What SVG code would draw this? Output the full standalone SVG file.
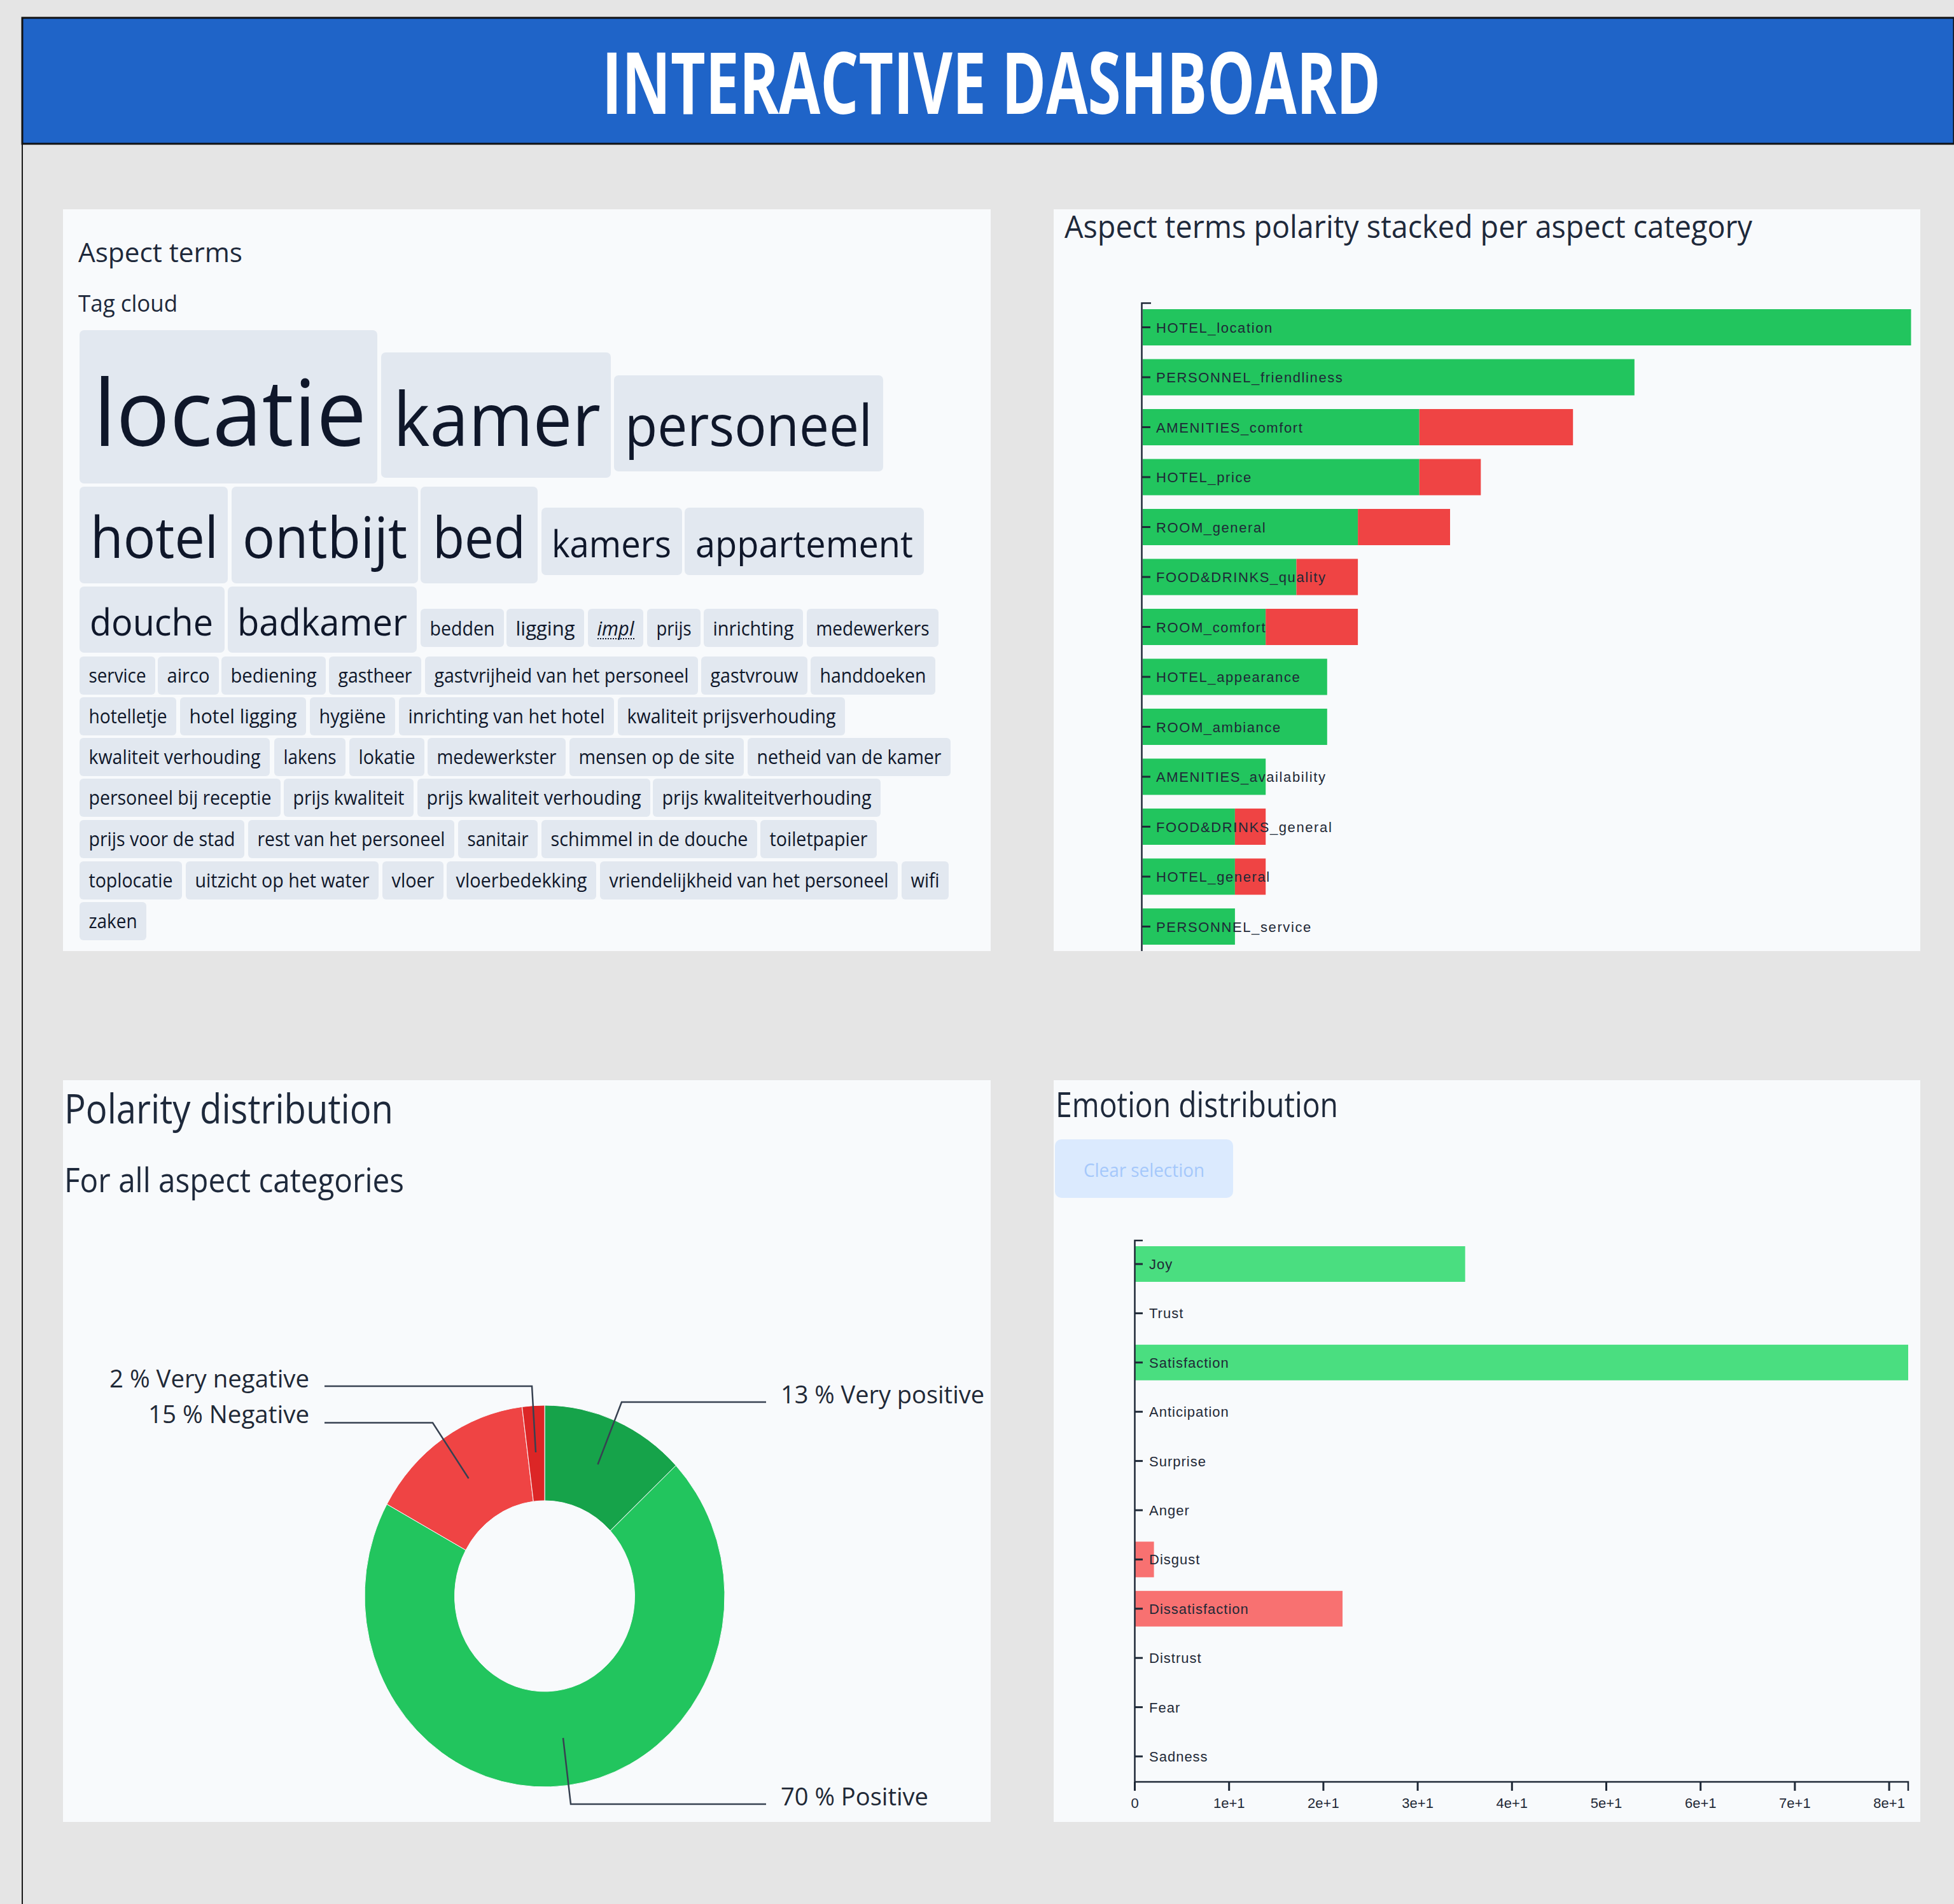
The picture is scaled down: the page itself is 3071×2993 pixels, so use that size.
<svg xmlns="http://www.w3.org/2000/svg" width="3071" height="2993" viewBox="0 0 3071 2993">
<style>
.ui{font-family:"Open Sans","Noto Sans",sans-serif;fill:#0f172a}
.hd{font-family:"Open Sans","Noto Sans",sans-serif;fill:#1e293b}
.chip{fill:#e2e8f0}
.sm{font-size:31px}
.panel{fill:#f8fafc}
.ax{font-family:"Liberation Sans",Arial,sans-serif;font-size:22px;fill:#1f2937}
.axl{stroke:#1f2937;stroke-width:2.5;fill:none}
.tick{stroke:#1f2937;stroke-width:3}
.g1{fill:#22c55e}.r1{fill:#ef4444}
.g2{fill:#4ade80}.r2{fill:#f87171}
.lead{stroke:#374151;stroke-width:2.5;fill:none}
.lbl{font-family:"Open Sans","Noto Sans",sans-serif;font-size:39px;fill:#1f2937}
</style>
<rect width="3071" height="2993" fill="#e5e5e5"/>
<line x1="35" y1="27" x2="35" y2="2993" stroke="#1a1a1a" stroke-width="2"/>
<g id="header">
<rect x="35" y="28" width="3036" height="198" fill="#1f64c8" stroke="#111" stroke-width="3"/>
<text x="946" y="179" font-family="'Open Sans','Noto Sans',sans-serif" font-weight="700" font-size="134" fill="#ffffff" textLength="1224" lengthAdjust="spacingAndGlyphs">INTERACTIVE DASHBOARD</text>
</g>

<g id="panel-aspect-terms">
<rect class="panel" x="99" y="329" width="1458" height="1166"/>
<text class="hd" x="123" y="412" font-size="42" textLength="258" lengthAdjust="spacingAndGlyphs">Aspect terms</text>
<text class="hd" x="123" y="490" font-size="36" textLength="156" lengthAdjust="spacingAndGlyphs">Tag cloud</text>
<g id="tags">
<rect class="chip" x="125" y="519" width="468" height="241" rx="7"/><text class="ui" x="147" y="701" font-size="145" textLength="429" lengthAdjust="spacingAndGlyphs">locatie</text>
<rect class="chip" x="599" y="554" width="361" height="197" rx="7"/><text class="ui" x="618" y="701" font-size="117" textLength="326" lengthAdjust="spacingAndGlyphs">kamer</text>
<rect class="chip" x="965" y="590" width="423" height="151" rx="7"/><text class="ui" x="982" y="701" font-size="89" textLength="389" lengthAdjust="spacingAndGlyphs">personeel</text>

<rect class="chip" x="125" y="765" width="233" height="152" rx="7"/><text class="ui" x="142" y="877" font-size="89" textLength="201" lengthAdjust="spacingAndGlyphs">hotel</text>
<rect class="chip" x="364" y="765" width="293" height="152" rx="7"/><text class="ui" x="381" y="877" font-size="89" textLength="259" lengthAdjust="spacingAndGlyphs">ontbijt</text>
<rect class="chip" x="661" y="765" width="184" height="152" rx="7"/><text class="ui" x="680" y="877" font-size="89" textLength="146" lengthAdjust="spacingAndGlyphs">bed</text>
<rect class="chip" x="851" y="798" width="221" height="106" rx="7"/><text class="ui" x="867" y="876" font-size="58" textLength="188" lengthAdjust="spacingAndGlyphs">kamers</text>
<rect class="chip" x="1076" y="798" width="376" height="106" rx="7"/><text class="ui" x="1093" y="876" font-size="58" textLength="342" lengthAdjust="spacingAndGlyphs">appartement</text>

<rect class="chip" x="125" y="922" width="228" height="104" rx="7"/><text class="ui" x="141" y="999" font-size="59" textLength="194" lengthAdjust="spacingAndGlyphs">douche</text>
<rect class="chip" x="358" y="922" width="297" height="104" rx="7"/><text class="ui" x="373" y="999" font-size="59" textLength="267" lengthAdjust="spacingAndGlyphs">badkamer</text>
<rect class="chip" x="661" y="957" width="131" height="60" rx="6"/><text class="ui sm" x="675.5" y="999" textLength="102" lengthAdjust="spacingAndGlyphs">bedden</text>
<rect class="chip" x="796" y="957" width="122" height="60" rx="6"/><text class="ui sm" x="810.5" y="999" textLength="93" lengthAdjust="spacingAndGlyphs">ligging</text>
<rect class="chip" x="924" y="957" width="87" height="60" rx="6"/><text class="ui sm" x="938.5" y="999" font-style="italic" textLength="58" lengthAdjust="spacingAndGlyphs">impl</text><line x1="939" y1="1004" x2="997" y2="1004" stroke="#0f172a" stroke-width="2" stroke-dasharray="2 2"/>
<rect class="chip" x="1017" y="957" width="84" height="60" rx="6"/><text class="ui sm" x="1031.5" y="999" textLength="55" lengthAdjust="spacingAndGlyphs">prijs</text>
<rect class="chip" x="1106" y="957" width="156" height="60" rx="6"/><text class="ui sm" x="1120.5" y="999" textLength="127" lengthAdjust="spacingAndGlyphs">inrichting</text>
<rect class="chip" x="1268" y="957" width="207" height="60" rx="6"/><text class="ui sm" x="1282.5" y="999" textLength="178" lengthAdjust="spacingAndGlyphs">medewerkers</text>

<rect class="chip" x="125" y="1032" width="119" height="60" rx="6"/><text class="ui sm" x="139.5" y="1073" textLength="90" lengthAdjust="spacingAndGlyphs">service</text>
<rect class="chip" x="248" y="1032" width="96" height="60" rx="6"/><text class="ui sm" x="262.5" y="1073" textLength="67" lengthAdjust="spacingAndGlyphs">airco</text>
<rect class="chip" x="348" y="1032" width="164" height="60" rx="6"/><text class="ui sm" x="362.5" y="1073" textLength="135" lengthAdjust="spacingAndGlyphs">bediening</text>
<rect class="chip" x="517" y="1032" width="145" height="60" rx="6"/><text class="ui sm" x="531.5" y="1073" textLength="116" lengthAdjust="spacingAndGlyphs">gastheer</text>
<rect class="chip" x="668" y="1032" width="429" height="60" rx="6"/><text class="ui sm" x="682.5" y="1073" textLength="400" lengthAdjust="spacingAndGlyphs">gastvrijheid van het personeel</text>
<rect class="chip" x="1102" y="1032" width="167" height="60" rx="6"/><text class="ui sm" x="1116.5" y="1073" textLength="138" lengthAdjust="spacingAndGlyphs">gastvrouw</text>
<rect class="chip" x="1274" y="1032" width="196" height="60" rx="6"/><text class="ui sm" x="1288.5" y="1073" textLength="167" lengthAdjust="spacingAndGlyphs">handdoeken</text>

<rect class="chip" x="125" y="1096" width="152" height="60" rx="6"/><text class="ui sm" x="139.5" y="1137" textLength="123" lengthAdjust="spacingAndGlyphs">hotelletje</text>
<rect class="chip" x="283" y="1096" width="198" height="60" rx="6"/><text class="ui sm" x="297.5" y="1137" textLength="169" lengthAdjust="spacingAndGlyphs">hotel ligging</text>
<rect class="chip" x="487" y="1096" width="134" height="60" rx="6"/><text class="ui sm" x="501.5" y="1137" textLength="105" lengthAdjust="spacingAndGlyphs">hygiëne</text>
<rect class="chip" x="627" y="1096" width="338" height="60" rx="6"/><text class="ui sm" x="641.5" y="1137" textLength="309" lengthAdjust="spacingAndGlyphs">inrichting van het hotel</text>
<rect class="chip" x="971" y="1096" width="357" height="60" rx="6"/><text class="ui sm" x="985.5" y="1137" textLength="328" lengthAdjust="spacingAndGlyphs">kwaliteit prijsverhouding</text>

<rect class="chip" x="125" y="1160" width="299" height="60" rx="6"/><text class="ui sm" x="139.5" y="1201" textLength="270" lengthAdjust="spacingAndGlyphs">kwaliteit verhouding</text>
<rect class="chip" x="431" y="1160" width="112" height="60" rx="6"/><text class="ui sm" x="445.5" y="1201" textLength="83" lengthAdjust="spacingAndGlyphs">lakens</text>
<rect class="chip" x="549" y="1160" width="118" height="60" rx="6"/><text class="ui sm" x="563.5" y="1201" textLength="89" lengthAdjust="spacingAndGlyphs">lokatie</text>
<rect class="chip" x="672" y="1160" width="217" height="60" rx="6"/><text class="ui sm" x="686.5" y="1201" textLength="188" lengthAdjust="spacingAndGlyphs">medewerkster</text>
<rect class="chip" x="895" y="1160" width="274" height="60" rx="6"/><text class="ui sm" x="909.5" y="1201" textLength="245" lengthAdjust="spacingAndGlyphs">mensen op de site</text>
<rect class="chip" x="1175" y="1160" width="319" height="60" rx="6"/><text class="ui sm" x="1189.5" y="1201" textLength="290" lengthAdjust="spacingAndGlyphs">netheid van de kamer</text>

<rect class="chip" x="125" y="1224" width="316" height="60" rx="6"/><text class="ui sm" x="139.5" y="1265" textLength="287" lengthAdjust="spacingAndGlyphs">personeel bij receptie</text>
<rect class="chip" x="446" y="1224" width="204" height="60" rx="6"/><text class="ui sm" x="460.5" y="1265" textLength="175" lengthAdjust="spacingAndGlyphs">prijs kwaliteit</text>
<rect class="chip" x="656" y="1224" width="366" height="60" rx="6"/><text class="ui sm" x="670.5" y="1265" textLength="337" lengthAdjust="spacingAndGlyphs">prijs kwaliteit verhouding</text>
<rect class="chip" x="1026" y="1224" width="358" height="60" rx="6"/><text class="ui sm" x="1040.5" y="1265" textLength="329" lengthAdjust="spacingAndGlyphs">prijs kwaliteitverhouding</text>

<rect class="chip" x="125" y="1289" width="259" height="60" rx="6"/><text class="ui sm" x="139.5" y="1330" textLength="230" lengthAdjust="spacingAndGlyphs">prijs voor de stad</text>
<rect class="chip" x="390" y="1289" width="324" height="60" rx="6"/><text class="ui sm" x="404.5" y="1330" textLength="295" lengthAdjust="spacingAndGlyphs">rest van het personeel</text>
<rect class="chip" x="720" y="1289" width="125" height="60" rx="6"/><text class="ui sm" x="734.5" y="1330" textLength="96" lengthAdjust="spacingAndGlyphs">sanitair</text>
<rect class="chip" x="851" y="1289" width="339" height="60" rx="6"/><text class="ui sm" x="865.5" y="1330" textLength="310" lengthAdjust="spacingAndGlyphs">schimmel in de douche</text>
<rect class="chip" x="1195" y="1289" width="183" height="60" rx="6"/><text class="ui sm" x="1209.5" y="1330" textLength="154" lengthAdjust="spacingAndGlyphs">toiletpapier</text>

<rect class="chip" x="125" y="1354" width="161" height="60" rx="6"/><text class="ui sm" x="139.5" y="1395" textLength="132" lengthAdjust="spacingAndGlyphs">toplocatie</text>
<rect class="chip" x="292" y="1354" width="303" height="60" rx="6"/><text class="ui sm" x="306.5" y="1395" textLength="274" lengthAdjust="spacingAndGlyphs">uitzicht op het water</text>
<rect class="chip" x="601" y="1354" width="96" height="60" rx="6"/><text class="ui sm" x="615.5" y="1395" textLength="67" lengthAdjust="spacingAndGlyphs">vloer</text>
<rect class="chip" x="702" y="1354" width="235" height="60" rx="6"/><text class="ui sm" x="716.5" y="1395" textLength="206" lengthAdjust="spacingAndGlyphs">vloerbedekking</text>
<rect class="chip" x="943" y="1354" width="468" height="60" rx="6"/><text class="ui sm" x="957.5" y="1395" textLength="439" lengthAdjust="spacingAndGlyphs">vriendelijkheid van het personeel</text>
<rect class="chip" x="1417" y="1354" width="74" height="60" rx="6"/><text class="ui sm" x="1431.5" y="1395" textLength="45" lengthAdjust="spacingAndGlyphs">wifi</text>

<rect class="chip" x="125" y="1418" width="105" height="60" rx="6"/><text class="ui sm" x="139.5" y="1459" textLength="76" lengthAdjust="spacingAndGlyphs">zaken</text>
</g>
</g>

<g id="panel-polarity-stacked">
<rect class="panel" x="1656" y="329" width="1362" height="1166"/>
<text class="hd" x="1673" y="374" font-size="49" textLength="1081" lengthAdjust="spacingAndGlyphs">Aspect terms polarity stacked per aspect category</text>
<g id="bars1">
<rect class="g1" x="1796" y="486" width="1207.5" height="57"/>
<rect class="g1" x="1796" y="564.5" width="772.8" height="57"/>
<rect class="g1" x="1796" y="643" width="434.7" height="57"/><rect class="r1" x="2230.7" y="643" width="241.5" height="57"/>
<rect class="g1" x="1796" y="721.5" width="434.7" height="57"/><rect class="r1" x="2230.7" y="721.5" width="96.6" height="57"/>
<rect class="g1" x="1796" y="800" width="338.1" height="57"/><rect class="r1" x="2134.1" y="800" width="144.9" height="57"/>
<rect class="g1" x="1796" y="878.5" width="241.5" height="57"/><rect class="r1" x="2037.5" y="878.5" width="96.6" height="57"/>
<rect class="g1" x="1796" y="957" width="193.2" height="57"/><rect class="r1" x="1989.2" y="957" width="144.9" height="57"/>
<rect class="g1" x="1796" y="1035.5" width="289.8" height="57"/>
<rect class="g1" x="1796" y="1114" width="289.8" height="57"/>
<rect class="g1" x="1796" y="1192.5" width="193.2" height="57"/>
<rect class="g1" x="1796" y="1271" width="144.9" height="57"/><rect class="r1" x="1940.9" y="1271" width="48.3" height="57"/>
<rect class="g1" x="1796" y="1349.5" width="144.9" height="57"/><rect class="r1" x="1940.9" y="1349.5" width="48.3" height="57"/>
<rect class="g1" x="1796" y="1428" width="144.9" height="57"/>
</g>
<path class="axl" d="M1809 476.5H1794.5V1495"/>
<g class="tick">
<line x1="1795" y1="514.5" x2="1808" y2="514.5"/><line x1="1795" y1="593" x2="1808" y2="593"/><line x1="1795" y1="671.5" x2="1808" y2="671.5"/><line x1="1795" y1="750" x2="1808" y2="750"/><line x1="1795" y1="828.5" x2="1808" y2="828.5"/><line x1="1795" y1="907" x2="1808" y2="907"/><line x1="1795" y1="985.5" x2="1808" y2="985.5"/><line x1="1795" y1="1064" x2="1808" y2="1064"/><line x1="1795" y1="1142.5" x2="1808" y2="1142.5"/><line x1="1795" y1="1221" x2="1808" y2="1221"/><line x1="1795" y1="1299.5" x2="1808" y2="1299.5"/><line x1="1795" y1="1378" x2="1808" y2="1378"/><line x1="1795" y1="1456.5" x2="1808" y2="1456.5"/>
</g>
<g class="ax" font-size="23" letter-spacing="1.6">
<text x="1817" y="522.5">HOTEL_location</text>
<text x="1817" y="601">PERSONNEL_friendliness</text>
<text x="1817" y="679.5">AMENITIES_comfort</text>
<text x="1817" y="758">HOTEL_price</text>
<text x="1817" y="836.5">ROOM_general</text>
<text x="1817" y="915">FOOD&amp;DRINKS_quality</text>
<text x="1817" y="993.5">ROOM_comfort</text>
<text x="1817" y="1072">HOTEL_appearance</text>
<text x="1817" y="1150.5">ROOM_ambiance</text>
<text x="1817" y="1229">AMENITIES_availability</text>
<text x="1817" y="1307.5">FOOD&amp;DRINKS_general</text>
<text x="1817" y="1386">HOTEL_general</text>
<text x="1817" y="1464.5">PERSONNEL_service</text>
</g>
</g>

<g id="panel-polarity-distribution">
<rect class="panel" x="99" y="1698" width="1458" height="1166"/>
<text class="hd" x="101" y="1766" font-size="64" textLength="517" lengthAdjust="spacingAndGlyphs">Polarity distribution</text>
<text class="hd" x="101" y="1874" font-size="53" textLength="534" lengthAdjust="spacingAndGlyphs">For all aspect categories</text>
<g id="donut" stroke="#f8fafc" stroke-width="1">
<path id="seg-very-positive" fill="#16a34a" d="M856 2209A283 300 0 0 1 1062.3 2303.65L959.2 2406.3A141.5 150 0 0 0 856 2359Z"/>
<path id="seg-positive" fill="#22c55e" d="M1062.3 2303.65A283 300 0 1 1 608 2364.5L732 2436.7A141.5 150 0 1 0 959.2 2406.3Z"/>
<path id="seg-negative" fill="#ef4444" d="M608 2364.5A283 300 0 0 1 820.5 2211.4L838.3 2360.2A141.5 150 0 0 0 732 2436.7Z"/>
<path id="seg-very-negative" fill="#dc2626" d="M820.5 2211.4A283 300 0 0 1 856 2209L856 2359A141.5 150 0 0 0 838.3 2360.2Z"/>
</g>
<text class="lbl" x="172" y="2181" textLength="314" lengthAdjust="spacingAndGlyphs">2 % Very negative</text>
<text class="lbl" x="233" y="2237" textLength="253" lengthAdjust="spacingAndGlyphs">15 % Negative</text>
<text class="lbl" x="1227" y="2206" textLength="320" lengthAdjust="spacingAndGlyphs">13 % Very positive</text>
<text class="lbl" x="1227" y="2838" textLength="232" lengthAdjust="spacingAndGlyphs">70 % Positive</text>
</g>

<g id="panel-emotion-distribution">
<rect class="panel" x="1656" y="1698" width="1362" height="1166"/>
<text class="hd" x="1659" y="1756" font-size="54" textLength="444" lengthAdjust="spacingAndGlyphs">Emotion distribution</text>
<rect x="1658" y="1791" width="280" height="92" rx="10" fill="#dbeafe"/>
<text x="1703" y="1850" font-family="'Open Sans','Noto Sans',sans-serif" font-size="30" fill="#a5c8fb" textLength="190" lengthAdjust="spacingAndGlyphs">Clear selection</text>
<g id="bars2">
<rect class="g2" x="1784" y="1959" width="518.7" height="56"/>
<rect class="g2" x="1784" y="2113.8" width="1215" height="56"/>
<rect class="r2" x="1784" y="2423.4" width="29.6" height="56"/>
<rect class="r2" x="1784" y="2500.8" width="326" height="56"/>
</g>
<path class="axl" d="M1796 1950H1783.5V2801H2999V2815"/>
<g class="tick">
<line x1="1784" y1="1987" x2="1796" y2="1987"/><line x1="1784" y1="2064.4" x2="1796" y2="2064.4"/><line x1="1784" y1="2141.8" x2="1796" y2="2141.8"/><line x1="1784" y1="2219.2" x2="1796" y2="2219.2"/><line x1="1784" y1="2296.6" x2="1796" y2="2296.6"/><line x1="1784" y1="2374" x2="1796" y2="2374"/><line x1="1784" y1="2451.4" x2="1796" y2="2451.4"/><line x1="1784" y1="2528.8" x2="1796" y2="2528.8"/><line x1="1784" y1="2606.2" x2="1796" y2="2606.2"/><line x1="1784" y1="2683.6" x2="1796" y2="2683.6"/><line x1="1784" y1="2761" x2="1796" y2="2761"/>
<line x1="1783.5" y1="2801" x2="1783.5" y2="2815"/><line x1="1931.7" y1="2801" x2="1931.7" y2="2815"/><line x1="2079.9" y1="2801" x2="2079.9" y2="2815"/><line x1="2228.1" y1="2801" x2="2228.1" y2="2815"/><line x1="2376.3" y1="2801" x2="2376.3" y2="2815"/><line x1="2524.5" y1="2801" x2="2524.5" y2="2815"/><line x1="2672.7" y1="2801" x2="2672.7" y2="2815"/><line x1="2820.9" y1="2801" x2="2820.9" y2="2815"/><line x1="2969.1" y1="2801" x2="2969.1" y2="2815"/>
</g>
<g class="ax" font-size="23" letter-spacing="1">
<text x="1806" y="1995">Joy</text>
<text x="1806" y="2072.4">Trust</text>
<text x="1806" y="2149.8">Satisfaction</text>
<text x="1806" y="2227.2">Anticipation</text>
<text x="1806" y="2304.6">Surprise</text>
<text x="1806" y="2382">Anger</text>
<text x="1806" y="2459.4">Disgust</text>
<text x="1806" y="2536.8">Dissatisfaction</text>
<text x="1806" y="2614.2">Distrust</text>
<text x="1806" y="2691.6">Fear</text>
<text x="1806" y="2769">Sadness</text>
</g>
<g class="ax" text-anchor="middle">
<text x="1783.5" y="2842">0</text>
<text x="1931.7" y="2842">1e+1</text>
<text x="2079.9" y="2842">2e+1</text>
<text x="2228.1" y="2842">3e+1</text>
<text x="2376.3" y="2842">4e+1</text>
<text x="2524.5" y="2842">5e+1</text>
<text x="2672.7" y="2842">6e+1</text>
<text x="2820.9" y="2842">7e+1</text>
<text x="2969.1" y="2842">8e+1</text>
</g>
</g>

<g id="connectors">
<polyline class="lead" points="939.5,2302 977,2204 1204,2204"/>
<polyline class="lead" points="842,2283 836,2179 510,2179"/>
<polyline class="lead" points="736.5,2324 680,2236.5 510,2236.5"/>
<polyline class="lead" points="885,2732 897,2836 1204,2836"/>
</g>
</svg>
